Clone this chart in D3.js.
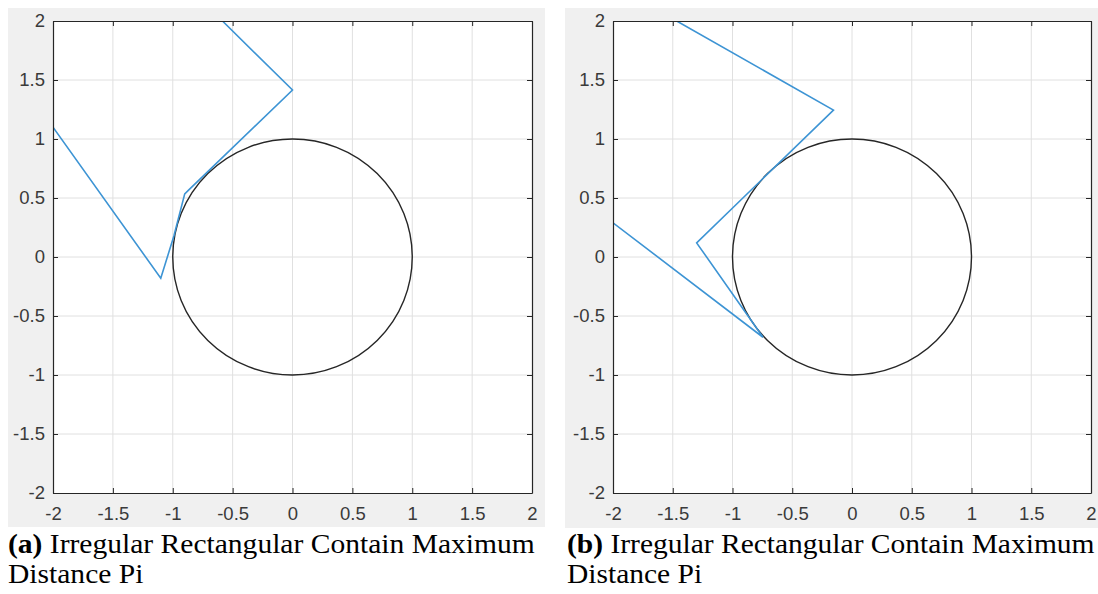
<!DOCTYPE html>
<html><head><meta charset="utf-8">
<script src="https://cdn.jsdelivr.net/npm/d3@7"></script>
<style>
html,body{margin:0;padding:0;background:#fff;}
svg{display:block;}
</style></head>
<body>
<svg id="chart" width="1098" height="594"></svg>
<script>
// ---- data ----
const tickValues = [-2, -1.5, -1, -0.5, 0, 0.5, 1, 1.5, 2];
const tickLabels = ["-2", "-1.5", "-1", "-0.5", "0", "0.5", "1", "1.5", "2"];
const circleRadius = 1;
const polyA_x = [-2.0, -1.1, -0.99, -0.9, -0.87, 0.0, -0.585];
const polyA_y = [1.1, -0.18, 0.18, 0.535, 0.565, 1.415, 2.0];
const polyB_x = [-1.467, -0.155, -1.3, -0.745, -2.0];
const polyB_y = [2.0, 1.245, 0.12, -0.68, 0.29];
const captionA = ["(a)", " Irregular Rectangular Contain Maximum", "Distance Pi"];
const captionB = ["(b)", " Irregular Rectangular Contain Maximum", "Distance Pi"];

const svg = d3.select("#chart");

const panels = [
  {id:"a", bg:[8,8,537,519], plot:[53,21,532,493], xs:polyA_x, ys:polyA_y, cap:captionA, capX:8, capW:527},
  {id:"b", bg:[565,8,533,520], plot:[613,21,1091,493], xs:polyB_x, ys:polyB_y, cap:captionB, capX:567, capW:528}
];

panels.forEach(p => {
  const g = svg.append("g");
  g.append("rect").attr("x",p.bg[0]).attr("y",p.bg[1]).attr("width",p.bg[2]).attr("height",p.bg[3]).attr("fill","#f0f0f0");
  const [x0,y0,x1,y1] = p.plot;
  const x = d3.scaleLinear().domain([-2,2]).range([x0,x1]);
  const y = d3.scaleLinear().domain([-2,2]).range([y1,y0]);
  g.append("rect").attr("x",x0).attr("y",y0).attr("width",x1-x0).attr("height",y1-y0).attr("fill","#fff");

  // grid
  g.append("g").selectAll("line").data(tickValues.slice(1,-1)).join("line")
    .attr("x1",d=>x(d)).attr("x2",d=>x(d)).attr("y1",y0).attr("y2",y1)
    .attr("stroke","#e0e0e0").attr("stroke-width",1);
  g.append("g").selectAll("line").data(tickValues.slice(1,-1)).join("line")
    .attr("y1",d=>y(d)).attr("y2",d=>y(d)).attr("x1",x0).attr("x2",x1)
    .attr("stroke","#e0e0e0").attr("stroke-width",1);

  const clipId = "clip"+p.id;
  g.append("clipPath").attr("id",clipId).append("rect")
    .attr("x",x0).attr("y",y0).attr("width",x1-x0).attr("height",y1-y0);
  const data = p.xs.map((v,i)=>[v,p.ys[i]]);
  const plot = g.append("g").attr("clip-path",`url(#${clipId})`);
  plot.append("ellipse").attr("cx",x(0)).attr("cy",y(0))
    .attr("rx",x(circleRadius)-x(0)).attr("ry",y(0)-y(circleRadius))
    .attr("fill","none").attr("stroke","#262626").attr("stroke-width",1.4);
  plot.append("path").datum(data)
    .attr("d",d3.line().x(d=>x(d[0])).y(d=>y(d[1])))
    .attr("fill","none").attr("stroke","#3d94d4").attr("stroke-width",1.6).attr("stroke-linejoin","miter");

  const fmt = d => tickLabels[tickValues.indexOf(d)];
  const tickCol = "#262626";
  // axes (ticks inside)
  const ax = [
    d3.axisBottom(x).tickValues(tickValues).tickFormat(fmt).tickSizeInner(-5).tickSizeOuter(0).tickPadding(14),
    d3.axisLeft(y).tickValues(tickValues).tickFormat(fmt).tickSizeInner(-5).tickSizeOuter(0).tickPadding(8),
    d3.axisTop(x).tickValues(tickValues).tickFormat("").tickSizeInner(-5).tickSizeOuter(0),
    d3.axisRight(y).tickValues(tickValues).tickFormat("").tickSizeInner(-5).tickSizeOuter(0)
  ];
  const trans = [`translate(0,${y1})`,`translate(${x0},0)`,`translate(0,${y0})`,`translate(${x1},0)`];
  ax.forEach((a,i)=>{
    const ag = g.append("g").attr("transform",trans[i]).call(a);
    ag.select(".domain").attr("stroke",tickCol).attr("stroke-width",1.2);
    ag.selectAll(".tick line").attr("stroke",tickCol).attr("stroke-width",1);
    ag.selectAll("text").attr("fill","#3a3a3a").attr("font-family","Liberation Sans, Arial, sans-serif").attr("font-size",18.5);
  });

  // caption
  const cap = g.append("g");
  const t1 = cap.append("text").attr("x",0).attr("y",0)
    .attr("font-family","Liberation Serif, Times New Roman, serif").attr("font-size",27).attr("fill","#000");
  t1.append("tspan").attr("font-weight","bold").text(p.cap[0]);
  t1.append("tspan").text(p.cap[1]);
  cap.append("text").attr("x",0).attr("y",30)
    .attr("font-family","Liberation Serif, Times New Roman, serif").attr("font-size",27).attr("fill","#000")
    .text(p.cap[2]);
  const w = t1.node().getComputedTextLength();
  const sx = w > 0 ? p.capW / w : 1;
  cap.attr("transform",`translate(${p.capX},553) scale(${sx},1)`);
});
</script>
</body></html>
